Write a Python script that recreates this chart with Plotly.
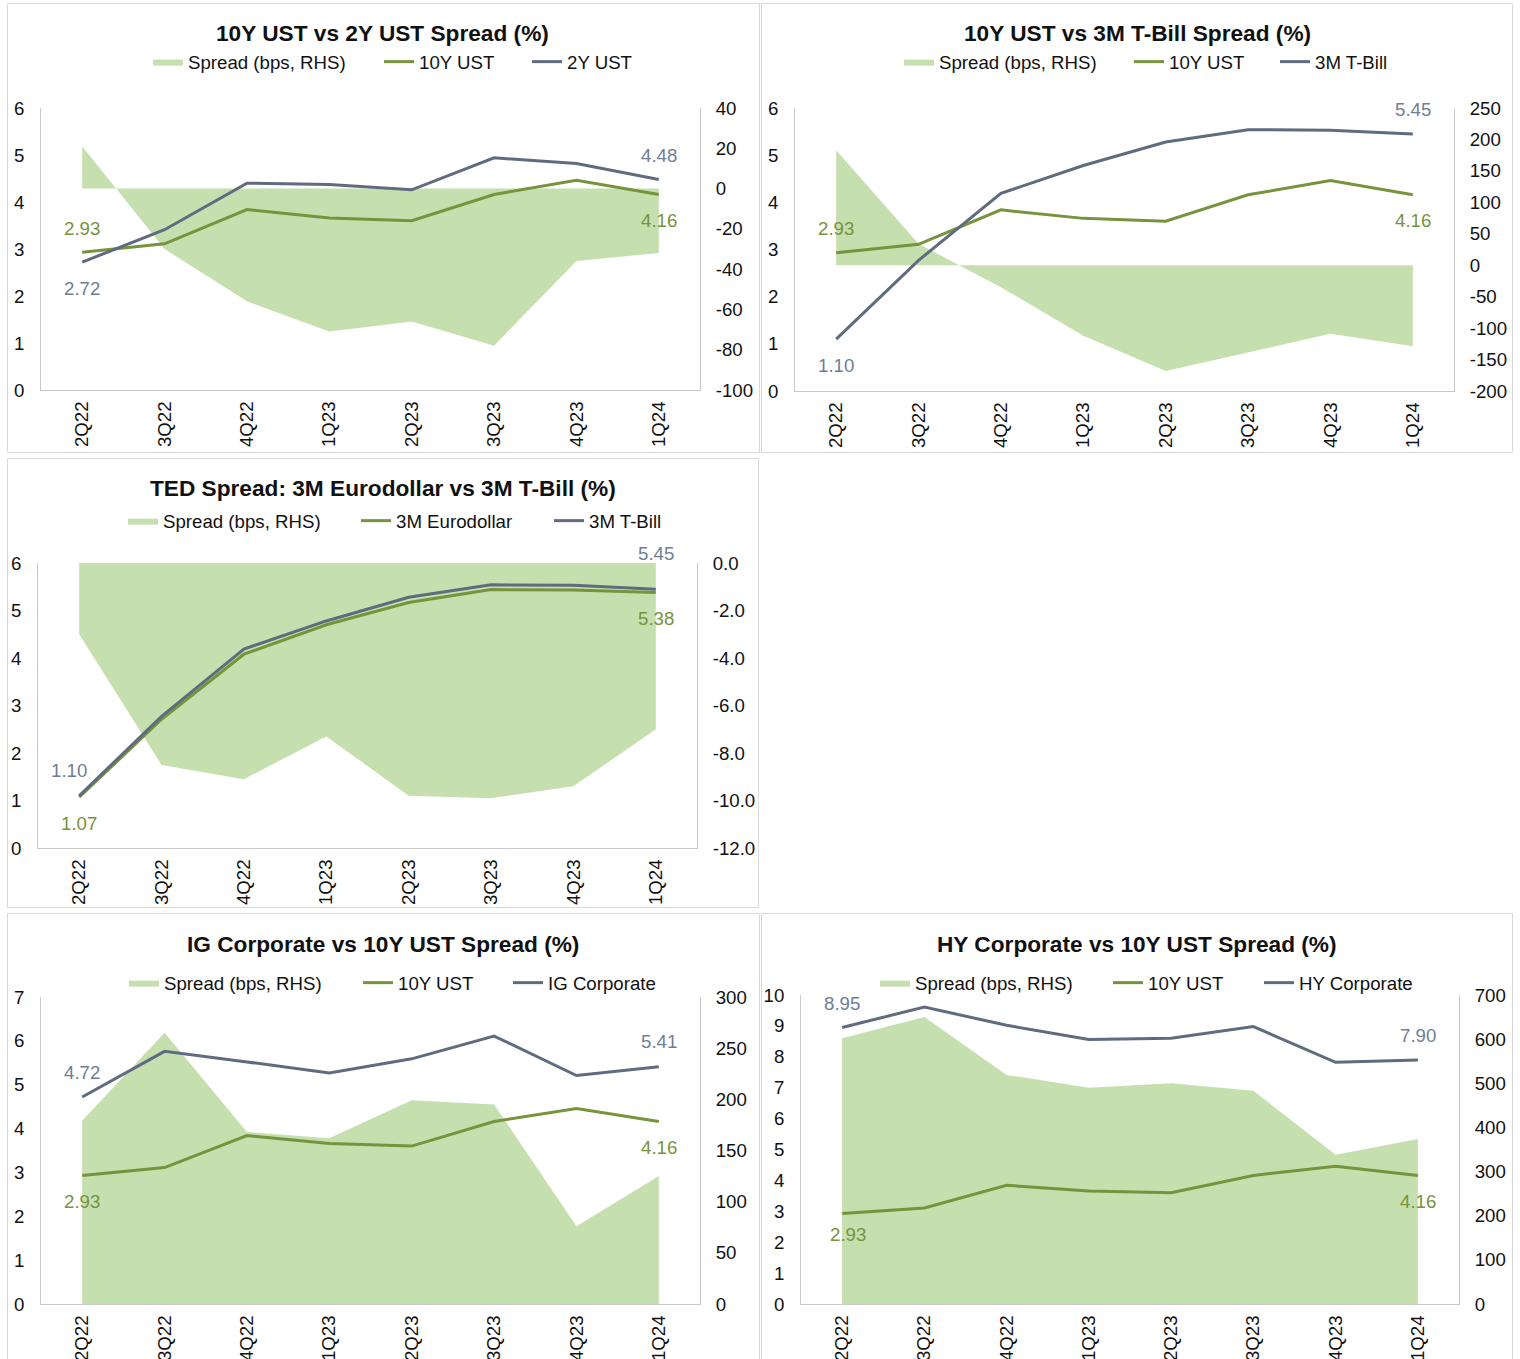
import plotly.graph_objects as go

W, H = 1520, 1359

# Quarter-end readings (yields in %, spreads in bps)
quarters = ["2Q22", "3Q22", "4Q22", "1Q23", "2Q23", "3Q23", "4Q23", "1Q24"]

ust_10y = [2.93, 3.11, 3.84, 3.66, 3.60, 4.16, 4.46, 4.16]
ust_2y = [2.72, 3.41, 4.40, 4.37, 4.26, 4.94, 4.82, 4.48]
spread_10y_2y = [21, -30, -56, -71, -66, -78, -36, -32]

tbill_3m = [1.10, 2.77, 4.19, 4.78, 5.28, 5.54, 5.53, 5.45]
spread_10y_3m = [183, 34, -35, -112, -168, -138, -109, -129]

eurodollar_3m = [1.07, 2.71, 4.08, 4.70, 5.17, 5.44, 5.43, 5.38]
ted_spread = [-3.0, -8.5, -9.1, -7.3, -9.8, -9.9, -9.4, -7.0]

ig_corporate = [4.72, 5.76, 5.52, 5.27, 5.59, 6.11, 5.21, 5.41]
ig_spread = [179, 265, 168, 162, 199, 195, 76, 125]

hy_corporate = [8.95, 9.61, 9.02, 8.56, 8.60, 8.98, 7.82, 7.90]
hy_spread = [602, 650, 519, 490, 500, 483, 338, 374]

FONT = "Liberation Sans, Arial, sans-serif"
FS = 18.67          # 14pt
TITLE_FS = 22.67    # 17pt
AREA = "#C6DFAF"
GREEN = "#77933C"
GREY_LINE = "#5F6B7E"
GREY_TEXT = "#6F7E95"
AXIS_LINE = "#C9C9C9"
BORDER = "#D9D9D9"
TEXT = "#111111"


def px(x):
    return x / W


def py(y):
    return 1 - y / H


panels = [
    dict(title="10Y UST vs 2Y UST Spread (%)", box=(7, 759, 3, 452),
         plot=(41, 700, 108, 390), title_xy=(383, 33), legend_xy=(148, 62), legend_w=(186, 103),
         area=spread_10y_2y, a=ust_10y, a_name="10Y UST", b=ust_2y, b_name="2Y UST",
         left=(0, 6, 1), right=(-100, 40, 20), rdec=0,
         labels=[("a", 0, 0, 24), ("b", 0, 0, -26), ("b", 7, 0, 24), ("a", 7, 0, -26)]),
    dict(title="10Y UST vs 3M T-Bill Spread (%)", box=(761, 1512, 3, 452),
         plot=(795, 1454, 108, 391), title_xy=(1137, 33), legend_xy=(899, 62), legend_w=(185, 101),
         area=spread_10y_3m, a=ust_10y, a_name="10Y UST", b=tbill_3m, b_name="3M T-Bill",
         left=(0, 6, 1), right=(-200, 250, 50), rdec=0,
         labels=[("a", 0, 0, 24), ("b", 0, 0, -26), ("b", 7, 0, 24), ("a", 7, 0, -26)]),
    dict(title="TED Spread: 3M Eurodollar vs 3M T-Bill (%)", box=(7, 758, 458, 907),
         plot=(38, 697, 563, 848), title_xy=(383, 488), legend_xy=(123, 521), legend_w=(188, 148),
         area=ted_spread, a=eurodollar_3m, a_name="3M Eurodollar", b=tbill_3m, b_name="3M T-Bill",
         left=(0, 6, 1), right=(-12, 0, 2), rdec=1,
         labels=[("b", 0, -10, 25), ("a", 0, 0, -26), ("b", 7, 0, 36), ("a", 7, 0, -26)]),
    dict(title="IG Corporate vs 10Y UST Spread (%)", box=(7, 759, 913, 1380),
         plot=(41, 700, 997, 1304), title_xy=(383, 944), legend_xy=(124, 983), legend_w=(189, 105),
         area=ig_spread, a=ust_10y, a_name="10Y UST", b=ig_corporate, b_name="IG Corporate",
         left=(0, 7, 1), right=(0, 300, 50), rdec=0,
         labels=[("b", 0, 0, 24), ("a", 0, 0, -26), ("b", 7, 0, 25), ("a", 7, 0, -26)]),
    dict(title="HY Corporate vs 10Y UST Spread (%)", box=(761, 1512, 913, 1380),
         plot=(801, 1459, 995, 1304), title_xy=(1137, 944), legend_xy=(875, 983), legend_w=(188, 106),
         area=hy_spread, a=ust_10y, a_name="10Y UST", b=hy_corporate, b_name="HY Corporate",
         left=(0, 10, 1), right=(0, 700, 100), rdec=0,
         labels=[("b", 0, 0, 24), ("a", 0, 6, -21), ("b", 7, 0, 24), ("a", 7, 0, -26)]),
]

fig = go.Figure()
layout = dict(
    width=W, height=H,
    margin=dict(l=0, r=0, t=0, b=0, autoexpand=False),
    paper_bgcolor="white", plot_bgcolor="rgba(0,0,0,0)",
    font=dict(family=FONT, size=FS, color=TEXT),
    showlegend=True,
)
annotations = []
shapes = []

for i, p in enumerate(panels):
    k = i + 1
    xa = "x" if k == 1 else f"x{k}"
    ya_area = 2 * i + 1
    ya_line = 2 * i + 2
    ya_area_ref = "y" if ya_area == 1 else f"y{ya_area}"
    ya_line_ref = f"y{ya_line}"
    leg = "legend" if k == 1 else f"legend{k}"
    w1, w2 = p["legend_w"]

    # Spread area on the right-hand axis
    fig.add_trace(go.Scatter(
        x=quarters, y=p["area"], name="Spread (bps, RHS)", mode="lines",
        fill="tozeroy", fillcolor=AREA, line=dict(width=0, color=AREA),
        xaxis=xa, yaxis=ya_area_ref, legend=leg, legendwidth=w1, hoverinfo="skip",
    ))
    # Yield lines on the left-hand axis
    fig.add_trace(go.Scatter(
        x=quarters, y=p["a"], name=p["a_name"], mode="lines",
        line=dict(width=3, color=GREEN),
        xaxis=xa, yaxis=ya_line_ref, legend=leg, legendwidth=w2,
    ))
    fig.add_trace(go.Scatter(
        x=quarters, y=p["b"], name=p["b_name"], mode="lines",
        line=dict(width=3, color=GREY_LINE),
        xaxis=xa, yaxis=ya_line_ref, legend=leg,
    ))

    l, r, t, b = p["plot"]
    layout["xaxis" if k == 1 else f"xaxis{k}"] = dict(
        domain=[px(l), px(r)], anchor=ya_area_ref, type="category",
        range=[-0.5, 7.5], tickangle=-90, showline=True, linecolor=AXIS_LINE,
        linewidth=1, ticks="", showgrid=False, zeroline=False, automargin=False,
        tickfont=dict(size=FS, color=TEXT), ticklabelstandoff=3,
    )

    # Right axis ticks written with a plain hyphen for negatives
    rlo, rhi, rstep = p["right"]
    n_steps = int(round((rhi - rlo) / rstep))
    rvals = [rlo + j * rstep for j in range(n_steps + 1)]
    rtext = [f"{v:.{p['rdec']}f}" for v in rvals]
    layout["yaxis" if ya_area == 1 else f"yaxis{ya_area}"] = dict(
        domain=[py(b), py(t)], anchor=xa, side="right", range=[rlo, rhi],
        tickvals=rvals, ticktext=rtext, showline=True, automargin=False,
        linecolor=AXIS_LINE, linewidth=1, ticks="", showgrid=False,
        zeroline=False, tickfont=dict(size=FS, color=TEXT), ticklabelstandoff=11,
    )
    llo, lhi, lstep = p["left"]
    layout[f"yaxis{ya_line}"] = dict(
        overlaying=ya_area_ref, anchor=xa, side="left", range=[llo, lhi],
        dtick=lstep, tick0=llo, showline=True, linecolor=AXIS_LINE, linewidth=1,
        ticks="", showgrid=False, zeroline=False, automargin=False,
        tickfont=dict(size=FS, color=TEXT), ticklabelstandoff=12,
    )

    lx, ly = p["legend_xy"]
    layout[leg] = dict(
        orientation="h", x=px(lx), y=py(ly), xanchor="left", yanchor="middle",
        bgcolor="rgba(0,0,0,0)", font=dict(size=FS, color=TEXT),
        traceorder="normal", itemwidth=30,
    )

    tx, ty = p["title_xy"]
    annotations.append(dict(
        text=f"<b>{p['title']}</b>", x=px(tx), y=py(ty), xref="paper", yref="paper",
        xanchor="center", yanchor="middle", showarrow=False,
        font=dict(size=TITLE_FS, color=TEXT, family=FONT),
    ))

    # End-point value labels
    for key, idx, dx, dy in p["labels"]:
        vals = p[key]
        annotations.append(dict(
            text=f"{vals[idx]:.2f}", x=quarters[idx], y=vals[idx],
            xref=xa, yref=ya_line_ref, showarrow=False, xshift=dx, yshift=dy,
            font=dict(size=FS, color=GREEN if key == "a" else GREY_TEXT, family=FONT),
        ))

    bx0, bx1, by0, by1 = p["box"]
    shapes.append(dict(
        type="rect", xref="paper", yref="paper",
        x0=px(bx0 + 0.5), x1=px(bx1 + 0.5), y0=py(by1 + 0.5), y1=py(by0 + 0.5),
        line=dict(color=BORDER, width=1), fillcolor="rgba(0,0,0,0)", layer="below",
    ))

layout["annotations"] = annotations
layout["shapes"] = shapes
fig.update_layout(**layout)

fig.write_html("out.html")
